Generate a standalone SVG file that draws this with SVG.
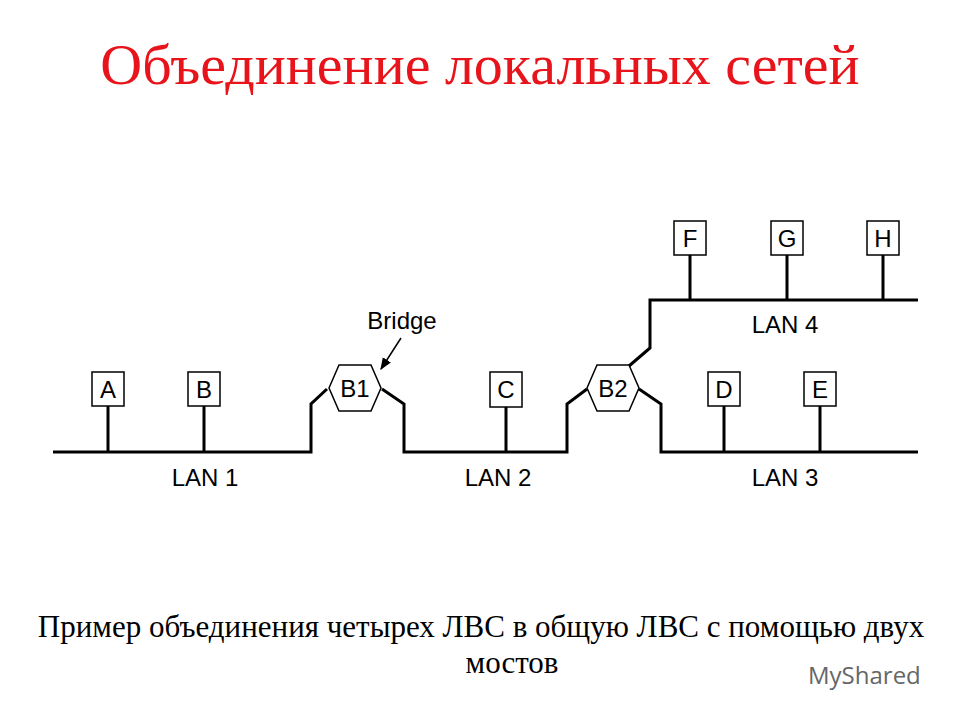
<svg xmlns="http://www.w3.org/2000/svg" width="960" height="720" viewBox="0 0 960 720">
<style>
.w{fill:none;stroke:#000;stroke-width:3}
.box{fill:#fff;stroke:#000;stroke-width:1.5}
.t{font-family:"Liberation Sans",Arial,sans-serif;font-size:24px;text-anchor:middle}
.s{font-family:"Liberation Serif","Times New Roman",serif;text-anchor:middle}
</style>
<defs><marker id="ah" viewBox="0 0 10 10" refX="9" refY="5" markerWidth="8" markerHeight="8" orient="auto"><path d="M0,1 L10,5 L0,9 z"/></marker></defs>
<rect width="960" height="720" fill="#fff"/>
<text class="s" x="480" y="84" font-size="58" fill="#e8141c">Объединение локальных сетей</text>
<g id="connectors">
<path class="w" d="M53,452 H311 V404 L327,389"/>
<path class="w" d="M382,389 L404,404 V452 H567 V404 L587,389"/>
<path class="w" d="M639,389 L661,404 V452 H918"/>
<path class="w" d="M629,366 L650,348 V300 H918"/>
<path class="w" stroke-width="2" d="M108,406V452M204,406V452M506,407V452M724,406V452M820,406V452M690,255V300M787,255V300M883,255V300"/>
<line x1="401" y1="338" x2="381" y2="369" stroke="#000" stroke-width="1.5" marker-end="url(#ah)"/>
</g>
<g id="A"><rect class="box" x="92" y="372" width="32" height="34"/><text class="t" x="108" y="398">A</text></g>
<g id="B"><rect class="box" x="188" y="372" width="32" height="34"/><text class="t" x="204" y="398">B</text></g>
<g id="C"><rect class="box" x="490" y="372" width="32" height="35"/><text class="t" x="506" y="398">C</text></g>
<g id="D"><rect class="box" x="708" y="372" width="32" height="34"/><text class="t" x="724" y="398">D</text></g>
<g id="E"><rect class="box" x="804" y="372" width="32" height="34"/><text class="t" x="820" y="398">E</text></g>
<g id="F"><rect class="box" x="674" y="221" width="32" height="34"/><text class="t" x="690" y="247">F</text></g>
<g id="G"><rect class="box" x="771" y="221" width="32" height="34"/><text class="t" x="787" y="247">G</text></g>
<g id="H"><rect class="box" x="867" y="221" width="32" height="34"/><text class="t" x="883" y="247">H</text></g>
<g id="B1"><polygon class="box" points="329,388 339,365 371,365 381,388 371,411 339,411"/><text class="t" x="355" y="397">B1</text></g>
<g id="B2"><polygon class="box" points="587,388 597,365 629,365 639,388 629,411 597,411"/><text class="t" x="613" y="397">B2</text></g>
<text class="t" x="402" y="329">Bridge</text>
<text class="t" x="205" y="486">LAN 1</text>
<text class="t" x="498" y="486">LAN 2</text>
<text class="t" x="785" y="486">LAN 3</text>
<text class="t" x="785" y="333">LAN 4</text>
<text class="s" x="481" y="637" font-size="31">Пример объединения четырех ЛВС в общую ЛВС с помощью двух</text>
<text class="s" x="512" y="673" font-size="31">мостов</text>
<text x="808" y="684" font-family="Open Sans,sans-serif" font-size="24" fill="#666">MyShared</text>
</svg>
